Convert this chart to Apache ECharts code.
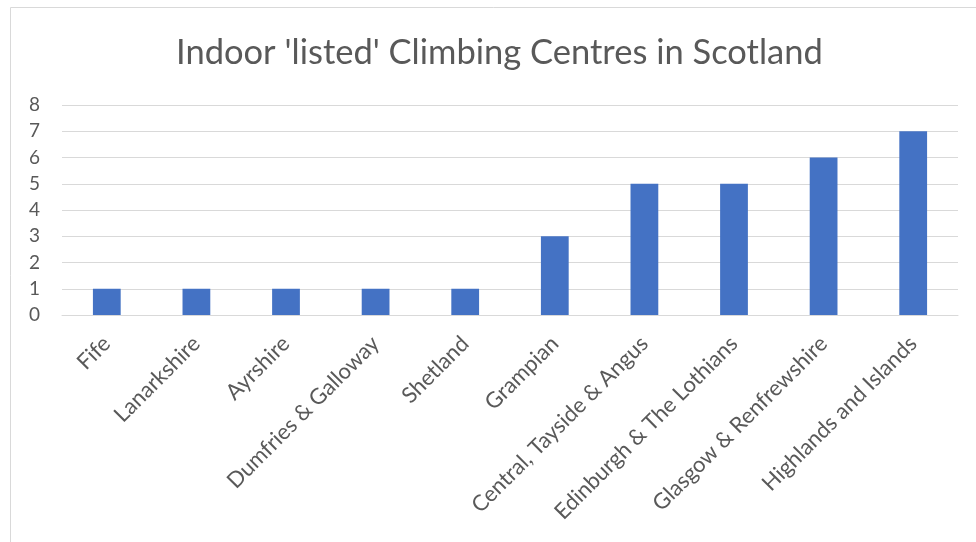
<!DOCTYPE html>
<html><head><meta charset="utf-8">
<script src="https://cdn.jsdelivr.net/npm/echarts@6/dist/echarts.min.js"></script>
<style>html,body{margin:0;padding:0;background:#fff}#c{width:976px;height:542px}</style>
</head><body><div id="c"></div>
<script>
var categories = ['Fife','Lanarkshire','Ayrshire','Dumfries & Galloway','Shetland','Grampian','Central, Tayside & Angus','Edinburgh & The Lothians','Glasgow & Renfrewshire','Highlands and Islands'];
var values = [1,1,1,1,1,3,5,5,6,7];
var titleText = "Indoor 'listed' Climbing Centres in Scotland";
var chart = echarts.init(document.getElementById('c'), null, {renderer:'canvas'});
var font = 'Lato';
chart.setOption({
  animation:false,
  graphic:[{type:'rect',shape:{x:10.5,y:7.5,width:1000,height:1000},style:{fill:null,stroke:'#d9d9d9',lineWidth:1},silent:true}],
  title:{text:titleText,left:171,top:30,textStyle:{fontFamily:font,fontSize:34.5,fontWeight:'normal',color:'#595959'}},
  grid:{left:62,right:18,top:105,bottom:227,containLabel:false},
  xAxis:{type:'category',data:categories,axisTick:{show:false},axisLine:{lineStyle:{color:'#d9d9d9'}},
    axisLabel:{rotate:45,interval:0,margin:25,fontFamily:font,fontSize:22,color:'#595959'}},
  yAxis:{type:'value',min:0,max:8,interval:1,axisLine:{show:false},axisTick:{show:false},
    splitLine:{lineStyle:{color:'#d9d9d9',width:1}},
    axisLabel:{fontFamily:font,fontSize:19,color:'#595959',margin:22}},
  series:[{type:'bar',data:values,barWidth:'31%',itemStyle:{color:'#4472c4'}}]
});
</script></body></html>
